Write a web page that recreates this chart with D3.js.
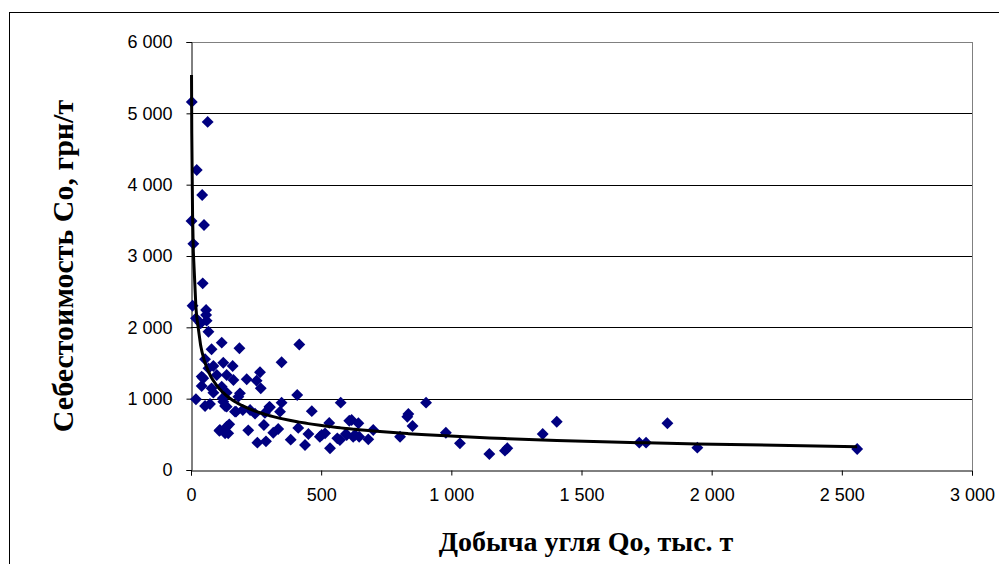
<!DOCTYPE html>
<html>
<head>
<meta charset="utf-8">
<script src="https://cdn.jsdelivr.net/npm/d3@7"></script>
<style>
	body { margin: 0; background: #fff; }
	svg { display: block; }
	.tick text { font-family: "Liberation Sans", Arial, sans-serif; font-size: 18px; fill: #000; }
	.title { font-family: "Liberation Serif", "Times New Roman", serif; font-weight: bold; fill: #000; }
</style>
</head>
<body>
<div id="chart"></div>
<script>
// добыча угля, тыс. т
const production = [
	3, 64, 22, 43, 2, 50, 9,
	45, 6, 19, 58, 58, 60, 37, 67,
	118, 186, 79, 416, 54, 348, 86, 124, 160, 67, 265, 99, 137, 47, 214, 163, 252,
	41, 79, 118, 268, 86, 137, 188, 19, 54, 73, 131, 122, 182, 408, 173, 199, 246,
	301, 348, 342, 464, 280, 220, 316, 335, 412, 109, 147, 131, 255, 288, 383, 438,
	451, 495, 534, 562, 575, 531,
	41, 124, 137, 169, 227, 284, 111, 137, 143, 303, 608, 515, 595,
	502, 572, 598, 617, 630, 623, 643, 646, 681, 700, 803, 835, 831, 851, 903, 979,
	1033, 1146, 1206, 1215, 1351, 1405,
	1722, 1748, 1830, 1945, 2559
];
// себестоимость, грн/т
const cost = [
	5160, 4880, 4205, 3855, 3490, 3435, 3170,
	2617, 2303, 2126, 2243, 2173, 2094, 2056, 1939,
	1785, 1706, 1692, 1760, 1552, 1510, 1458, 1504, 1458, 1425, 1370, 1332, 1332, 1286, 1272, 1262, 1252,
	1178, 1145, 1168, 1145, 1084, 1084, 1075, 991, 897, 925, 897, 1005, 1028, 1051, 818, 841, 790,
	885, 944, 818, 825, 631, 556, 523, 575, 590, 551, 640, 514, 383, 402, 425, 351,
	505, 467, 304, 444, 944, 660,
	1309, 958, 888, 818, 841, 800, 561, 607, 514, 879, 691, 514, 505,
	491, 420, 491, 701, 491, 467, 655, 467, 430, 561, 467, 785, 747, 617, 944, 523,
	374, 224, 271, 304, 505, 677,
	383, 383, 655, 313, 294
];
const xTicks = [0, 500, 1000, 1500, 2000, 2500, 3000];
const yTicks = [0, 1000, 2000, 3000, 4000, 5000, 6000];
const xTitle = 'Добыча угля Qo, тыс. т';
const yTitle = 'Себестоимость Со, грн/т';

const width = 999, height = 564;
const margin = { top: 42, right: 27, bottom: 94, left: 191 };

const data = production.map((q, i) => ({ q: q, c: cost[i] }));

const fmt = d3.formatLocale({ decimal: ',', thousands: ' ', grouping: [3], currency: ['', ''] }).format(',d');

const svg = d3.select('#chart').append('svg')
	.attr('width', width)
	.attr('height', height);

svg.append('rect')
	.attr('x', 9.5).attr('y', 12.5)
	.attr('width', width).attr('height', height)
	.attr('fill', '#fff').attr('stroke', '#000');

const xScale = d3.scaleLinear()
	.domain([0, 3000])
	.range([margin.left, width - margin.right]);

const yScale = d3.scaleLinear()
	.domain([0, 6000])
	.range([height - margin.bottom, margin.top]);

// сетка
svg.append('g').attr('class', 'grid')
	.selectAll('line')
	.data(yTicks.filter(d => d > 0))
	.join('line')
	.attr('x1', xScale(0)).attr('x2', xScale(3000))
	.attr('y1', d => Math.round(yScale(d)) + 0.5)
	.attr('y2', d => Math.round(yScale(d)) + 0.5)
	.attr('stroke', d => d === 6000 ? '#808080' : '#000').attr('stroke-width', 1);

// правая граница области построения
svg.append('line')
	.attr('x1', Math.round(xScale(3000)) + 0.5).attr('x2', Math.round(xScale(3000)) + 0.5)
	.attr('y1', yScale(6000)).attr('y2', yScale(0))
	.attr('stroke', '#808080');

svg.append('g').attr('class', 'x-axis')
	.attr('transform', `translate(0, ${Math.round(yScale(0)) + 0.5})`)
	.call(d3.axisBottom(xScale).tickValues(xTicks).tickFormat(fmt).tickSize(5).tickPadding(13))
	.call(g => g.select('.domain').attr('stroke', '#000'));

svg.append('g').attr('class', 'y-axis')
	.attr('transform', `translate(${Math.round(xScale(0)) + 0.5}, 0)`)
	.call(d3.axisLeft(yScale).tickValues(yTicks).tickFormat(fmt).tickSize(5).tickPadding(14))
	.call(g => g.select('.domain').attr('stroke', '#000'));

svg.selectAll('.tick text').attr('fill', '#000');

// точки
const diamond = d3.symbol().type(d3.symbolDiamond2).size(90);
svg.append('g').attr('class', 'points')
	.selectAll('path')
	.data(data)
	.join('path')
	.attr('d', diamond)
	.attr('transform', d => `translate(${xScale(d.q)}, ${yScale(d.c)})`)
	.attr('fill', '#000080');

// степенная линия тренда (МНК в логарифмах)
const lx = data.map(d => Math.log(d.q));
const ly = data.map(d => Math.log(d.c));
const mx = d3.mean(lx), my = d3.mean(ly);
const b = d3.sum(lx, (v, i) => (v - mx) * (ly[i] - my)) / d3.sum(lx, v => (v - mx) * (v - mx));
const a = Math.exp(my - b * mx);

const trendX = Array.from(new Set(production)).sort((p, q) => p - q);
const line = d3.line()
	.x(q => xScale(q))
	.y(q => yScale(a * Math.pow(q, b)));

svg.append('path')
	.attr('class', 'trend')
	.attr('d', line(trendX))
	.attr('fill', 'none')
	.attr('stroke', '#000')
	.attr('stroke-width', 3);

svg.append('text')
	.attr('class', 'title')
	.attr('x', 586).attr('y', 551)
	.attr('font-size', 28)
	.attr('text-anchor', 'middle')
	.text(xTitle);

svg.append('text')
	.attr('class', 'title')
	.attr('transform', 'translate(73, 266) rotate(-90)')
	.attr('font-size', 30)
	.attr('text-anchor', 'middle')
	.text(yTitle);
</script>
</body>
</html>
